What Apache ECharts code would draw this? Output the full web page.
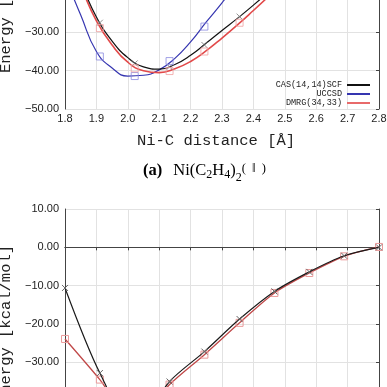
<!DOCTYPE html>
<html><head><meta charset="utf-8">
<script src="https://cdn.jsdelivr.net/npm/echarts@6/dist/echarts.min.js"></script>
<style>html,body{margin:0;padding:0;background:#fff}#c{width:387px;height:387px}</style>
</head><body><div id="c"></div><script>
// ---- data ----
// fitted curves of panel (a)
const curveX      = [1.80, 1.85, 1.90, 1.95, 2.00, 2.05, 2.10, 2.15, 2.20, 2.25, 2.30, 2.35, 2.40, 2.45];
const casCurve    = [-8.0, -17.0, -26.0, -32.3, -36.6, -39.0, -39.6, -38.4, -36.0, -32.8, -29.5, -26.3, -22.9, -19.4];
const uccsdCurve  = [-15.5, -25.5, -35.0, -39.3, -41.4, -41.2, -39.8, -36.8, -32.5, -27.3, -22.3, -17.0, -12.0, -7.0];
const dmrgCurve   = [-9.0, -18.0, -27.0, -33.3, -37.8, -40.0, -40.5, -39.5, -37.6, -34.8, -31.5, -28.0, -24.3, -20.5];
// computed points of panel (a)
const topPtX      = [1.911, 2.022, 2.133, 2.244, 2.356];
const casTopPts   = [-27.5, -38.1, -39.0, -33.3, -25.9];
const uccsdTopPts = [-36.3, -41.4, -37.5, -28.5, null];
const dmrgTopPts  = [-28.9, -39.4, -40.1, -35.0, -27.5];
// lower panel
const botX        = [1.8, 1.911, 2.022, 2.133, 2.244, 2.356, 2.467, 2.578, 2.689, 2.8];
const casBot      = [-10.6, -32.8, -47.0, -35.0, -27.2, -18.7, -11.5, -6.4, -2.2, 0.0];
const dmrgBot     = [-23.9, -34.5, -46.0, -35.8, -28.0, -19.7, -11.9, -6.7, -2.35, 0.1];
const seriesNames = ['CAS(14,14)SCF', 'UCCSD', 'DMRG(34,33)'];
const xTitle = 'Ni-C distance [Å]';
const yTitle = 'Energy [kcal/mol]';

const zip = (xs, ys) => xs.map((x, i) => [x, ys[i]]).filter(p => p[1] !== null);
const mono = 'Liberation Mono';
const sans = 'Liberation Sans';
const serif = 'Liberation Serif';
const yFmt = v => (v < 0 ? '\u2212' : '') + Math.abs(v).toFixed(2);
const cross = 'path://M0,0L10,10M10,0L0,10';

function xMain(g) {
  return {gridIndex: g, type: 'value', min: 1.8, max: 2.8, interval: 0.1,
    axisLine: {show: true, lineStyle: {color: '#444', width: 1}},
    axisTick: {show: false},
    splitLine: {show: true, lineStyle: {color: '#e2e2e2', width: 1}},
    axisLabel: {fontSize: 11, color: '#222', margin: 4, fontFamily: sans, formatter: v => v.toFixed(1)},
    name: xTitle, nameLocation: 'middle', nameGap: 24,
    nameTextStyle: {fontFamily: mono, fontSize: 15.5, color: '#222', padding: [0, 12, 0, 0]}};
}
function xMirror(g) {
  return {gridIndex: g, type: 'value', position: 'top', min: 1.8, max: 2.8, interval: 0.1,
    axisLine: {show: true, lineStyle: {color: '#444'}},
    axisTick: {show: true, inside: true, length: 3, lineStyle: {color: '#444'}},
    axisLabel: {show: false}, splitLine: {show: false}};
}
function yMain(g) {
  return {gridIndex: g, type: 'value', min: -50, max: 10, interval: 10,
    axisLine: {show: true, lineStyle: {color: '#444'}},
    axisTick: {show: false},
    splitLine: {show: true, lineStyle: {color: '#e2e2e2'}},
    axisLabel: {fontSize: 11, color: '#222', margin: 6, fontFamily: sans, formatter: yFmt},
    name: yTitle, nameLocation: 'middle', nameGap: 43,
    nameTextStyle: {fontFamily: mono, fontSize: 15.5, color: '#222'}};
}
function yMirror(g) {
  return {gridIndex: g, type: 'value', position: 'right', min: -50, max: 10, interval: 10,
    axisLine: {show: true, lineStyle: {color: '#444'}},
    axisTick: {show: true, inside: true, length: 3, lineStyle: {color: '#444'}},
    axisLabel: {show: false}, splitLine: {show: false}};
}

const chart = echarts.init(document.getElementById('c'), null, {renderer: 'canvas'});
chart.setOption({
  animation: false,
  backgroundColor: '#fff',
  grid: [
    {left: 65, right: 8, top: -121, height: 230, containLabel: false, outerBoundsMode: 'none'},
    {left: 65, right: 8, top: 209, height: 230, containLabel: false, outerBoundsMode: 'none'}
  ],
  xAxis: [xMain(0), xMirror(0), xMain(1), xMirror(1)],
  yAxis: [yMain(0), yMirror(0), yMain(1), yMirror(1)],
  legend: {
    right: 17, top: 80.5, padding: 0, orient: 'vertical', align: 'right', icon: 'rect',
    itemWidth: 23, itemHeight: 2, itemGap: 0,
    textStyle: {fontFamily: mono, fontSize: 8.5, color: '#222', width: 70, align: 'right', lineHeight: 9},
    data: seriesNames
  },
  graphic: [{
    type: 'text', left: 143, top: 162,
    style: {
      text: '{b|(a)}{sp| }{r|Ni(C}{s|2}{r|H}{s|4}{r|)}{t|2}{u|(  ‖  )}',
      rich: {
        b: {fontFamily: serif, fontWeight: 'bold', fontSize: 16.5, verticalAlign: 'top', color: '#111'},
        sp: {fontSize: 16, width: 11, verticalAlign: 'top'},
        r: {fontFamily: serif, fontSize: 16.5, verticalAlign: 'top', color: '#111'},
        s: {fontFamily: serif, fontSize: 12, verticalAlign: 'top', padding: [7, 0, 0, 0], color: '#111'},
        t: {fontFamily: serif, fontSize: 12, verticalAlign: 'top', padding: [10, 0, 0, 0], color: '#111'},
        u: {fontFamily: serif, fontSize: 12.5, verticalAlign: 'top', padding: [0, 0, 0, 0], color: '#111'}
      }
    }
  }],
  series: [
    {name: seriesNames[0], type: 'line', xAxisIndex: 0, yAxisIndex: 0, smooth: true, showSymbol: false,
      data: zip(curveX, casCurve), lineStyle: {color: '#111', width: 1.2}, itemStyle: {color: '#111'}, z: 4},
    {name: seriesNames[1], type: 'line', xAxisIndex: 0, yAxisIndex: 0, smooth: true, showSymbol: false,
      data: zip(curveX, uccsdCurve), lineStyle: {color: '#3535b0', width: 1.2}, itemStyle: {color: '#3535b0'}, z: 3},
    {name: seriesNames[2], type: 'line', xAxisIndex: 0, yAxisIndex: 0, smooth: true, showSymbol: false,
      data: zip(curveX, dmrgCurve), lineStyle: {color: '#e24a4a', width: 1.6}, itemStyle: {color: '#e86a6a'}, z: 3},
    {name: 'cas-pts', type: 'scatter', xAxisIndex: 0, yAxisIndex: 0, symbol: cross, symbolSize: 6,
      data: zip(topPtX, casTopPts), itemStyle: {color: 'none', borderColor: '#777', borderWidth: 1}, z: 5},
    {name: 'uccsd-pts', type: 'scatter', xAxisIndex: 0, yAxisIndex: 0, symbol: 'rect', symbolSize: 7,
      data: zip(topPtX, uccsdTopPts), itemStyle: {color: 'rgba(0,0,0,0)', borderColor: '#8a8ae0', borderWidth: 1}, z: 5},
    {name: 'dmrg-pts', type: 'scatter', xAxisIndex: 0, yAxisIndex: 0, symbol: 'rect', symbolSize: 7,
      data: zip(topPtX, dmrgTopPts), itemStyle: {color: 'rgba(0,0,0,0)', borderColor: '#f0a0a0', borderWidth: 1}, z: 5},

    {name: 'cas-bot', type: 'line', xAxisIndex: 2, yAxisIndex: 2, smooth: 0.3, symbol: cross, symbolSize: 6,
      data: zip(botX, casBot), lineStyle: {color: '#1a1a1a', width: 1.2},
      itemStyle: {color: 'none', borderColor: '#666', borderWidth: 1}, z: 4},
    {name: 'dmrg-bot', type: 'line', xAxisIndex: 2, yAxisIndex: 2, smooth: 0.3, symbol: 'rect', symbolSize: 7,
      data: zip(botX, dmrgBot), lineStyle: {color: '#c04848', width: 1.3},
      itemStyle: {color: 'rgba(0,0,0,0)', borderColor: '#eb9a9a', borderWidth: 1}, z: 3}
  ]
});
</script></body></html>
